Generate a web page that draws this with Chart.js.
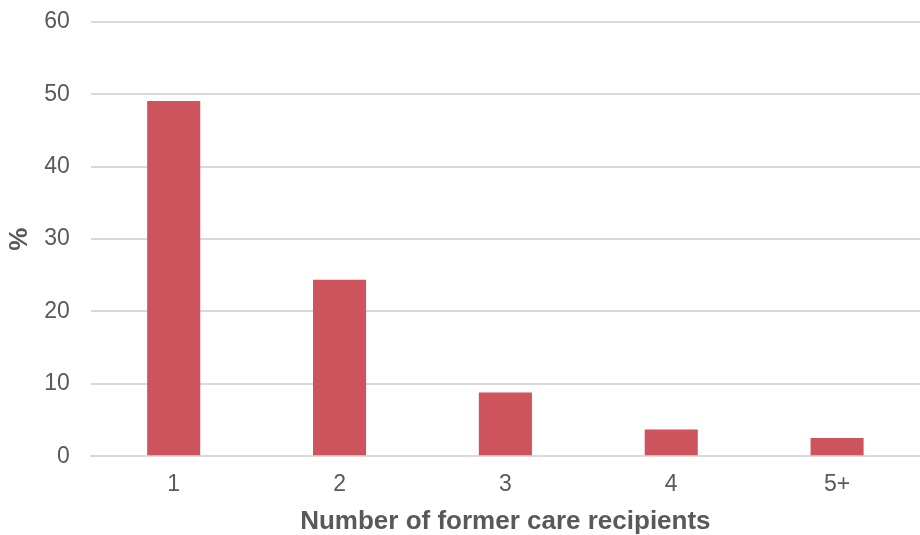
<!DOCTYPE html>
<html>
<head>
<meta charset="utf-8">
<script src="https://cdn.jsdelivr.net/npm/chart.js@4"></script>
<style>
  html, body { margin: 0; padding: 0; background: #fff; }
  #wrap { width: 920px; height: 535px; }
</style>
</head>
<body>
<div id="wrap"><canvas id="recipientsChart" width="920" height="535"></canvas></div>
<script>
// Share of carers by number of former care recipients
const categories = ['1', '2', '3', '4', '5+'];
const percentages = [49.1, 24.4, 8.8, 3.7, 2.5];
const yTicks = [0, 10, 20, 30, 40, 50, 60];

const textColor = '#595959';
const font = "'Liberation Sans', Arial, sans-serif";

const ctx = document.getElementById('recipientsChart').getContext('2d');

new Chart(ctx, {
    type: 'bar',
    data: {
        labels: categories,
        datasets: [{
            data: percentages,
            backgroundColor: '#cd535d',
            borderWidth: 0,
            categoryPercentage: 1,
            barPercentage: 0.32,
        }],
    },
    options: {
        responsive: false,
        animation: false,
        layout: { padding: { top: 0, right: 0, bottom: -2, left: 4 } },
        plugins: {
            legend: { display: false },
            tooltip: { enabled: false },
        },
        scales: {
            x: {
                grid: { display: false, drawTicks: false },
                border: { display: true, color: '#d9d9d9', width: 2 },
                ticks: { color: textColor, font: { family: font, size: 23 }, padding: 15 },
                title: {
                    display: true,
                    text: 'Number of former care recipients',
                    color: textColor,
                    font: { family: font, size: 26, weight: 'bold' },
                    padding: { top: -8, bottom: 0 },
                },
            },
            y: {
                min: 0,
                max: 60,
                afterBuildTicks: (axis) => { axis.ticks = yTicks.map(v => ({ value: v })); },
                grid: { color: '#d9d9d9', lineWidth: 2, drawTicks: false },
                border: { display: false },
                // small lineHeight keeps the top label from pushing the plot down
                ticks: { color: textColor, font: { family: font, size: 23, lineHeight: 0.09 }, padding: 21 },
                title: {
                    display: true,
                    text: '%',
                    color: textColor,
                    font: { family: font, size: 26, weight: 'bold' },
                    padding: { top: 0, bottom: -12 },
                },
            },
        },
    },
});
</script>
</body>
</html>
